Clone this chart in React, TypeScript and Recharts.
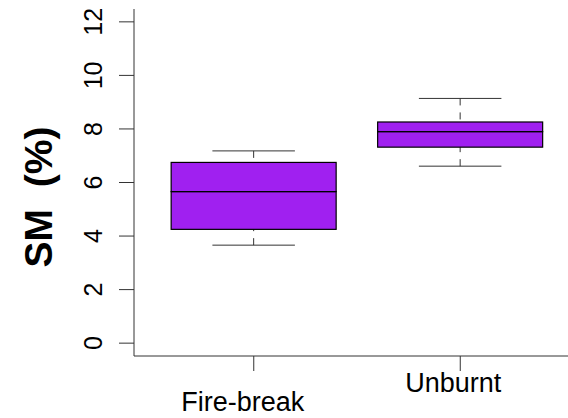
import { ComposedChart, Bar, XAxis, YAxis } from 'recharts'

const groups = ['Fire-break', 'Unburnt']
const whiskerLow = [3.66, 6.61]
const quartile1 = [4.25, 7.32]
const medians = [5.66, 7.9]
const quartile3 = [6.75, 8.26]
const whiskerHigh = [7.18, 9.14]
const yTicks = [0, 2, 4, 6, 8, 10, 12]

const FILL = '#A020F0'
const FONT = '"Liberation Sans", Arial, sans-serif'

// stacked segments: invisible base, lower whisker, two box halves, upper whisker
const data = groups.map((name, i) => ({
  name,
  base: whiskerLow[i],
  lowWhisker: quartile1[i] - whiskerLow[i],
  lowBox: medians[i] - quartile1[i],
  highBox: quartile3[i] - medians[i],
  highWhisker: whiskerHigh[i] - quartile3[i],
}))

function LowWhisker(props: any) {
  const { x, y, width, height } = props
  const cx = x + width / 2
  const end = y + height
  return (
    <g>
      <line x1={cx} y1={end} x2={cx} y2={y} stroke="#333" strokeWidth={1} strokeDasharray="7 7" />
      <line x1={cx - width / 4} y1={end} x2={cx + width / 4} y2={end} stroke="#333" strokeWidth={1} />
    </g>
  )
}

function HighWhisker(props: any) {
  const { x, y, width, height } = props
  const cx = x + width / 2
  return (
    <g>
      <line x1={cx} y1={y} x2={cx} y2={y + height} stroke="#333" strokeWidth={1} strokeDasharray="7 7" />
      <line x1={cx - width / 4} y1={y} x2={cx + width / 4} y2={y} stroke="#333" strokeWidth={1} />
    </g>
  )
}

function BoxHalf(props: any) {
  const { x, y, width, height } = props
  return <rect x={x} y={y} width={width} height={height} fill={FILL} stroke="#000" strokeWidth={1.2} />
}

function YTick(props: any) {
  const { x, y, payload } = props
  const bx = x - 15
  return (
    <text
      x={bx}
      y={y}
      transform={`rotate(-90, ${bx}, ${y})`}
      textAnchor="middle"
      fontSize={25}
      fontFamily={FONT}
      fill="#000"
    >
      {payload.value}
    </text>
  )
}

function XTick(props: any) {
  const { x, y, payload, index } = props
  // R put the two names on different lines, a bit left of the ticks
  const dy = index === 0 ? 38 : 19
  const dx = index === 0 ? -11 : -7
  return (
    <text x={x + dx} y={y + dy} textAnchor="middle" fontSize={27} fontFamily={FONT} fill="#000">
      {payload.value}
    </text>
  )
}

export default function App() {
  return (
    <div
      style={{
        position: 'absolute',
        top: 0,
        left: 0,
        width: 568,
        height: 418,
        overflow: 'hidden',
        background: '#fff',
      }}
    >
      <ComposedChart
        width={590}
        height={418}
        data={data}
        margin={{ top: 9, right: 10, bottom: 0, left: 0 }}
        barCategoryGap="10%"
      >
        <XAxis
          dataKey="name"
          height={62}
          padding={{ left: 16.5, right: 16.5 }}
          tickSize={15}
          tickLine={{ stroke: '#333' }}
          axisLine={{ stroke: '#333' }}
          tick={<XTick />}
          interval={0}
        />
        <XAxis
          xAxisId="top"
          dataKey="name"
          orientation="top"
          height={0}
          tick={false}
          tickLine={false}
          axisLine={{ stroke: '#333' }}
        />
        <YAxis
          width={134}
          domain={[-0.48, 12.48]}
          ticks={yTicks}
          allowDataOverflow
          tickSize={15}
          tickLine={{ stroke: '#333' }}
          axisLine={{ stroke: '#333' }}
          tick={<YTick />}
          label={{
            content: () => (
              <text
                x={52}
                y={197}
                transform="rotate(-90, 52, 197)"
                textAnchor="middle"
                fontSize={39}
                fontWeight="bold"
                fontFamily={FONT}
                fill="#000"
                style={{ whiteSpace: 'pre' }}
              >
                {'SM  (%)'}
              </text>
            ),
          }}
        />
        <Bar dataKey="base" stackId="a" fill="transparent" isAnimationActive={false} />
        <Bar dataKey="lowWhisker" stackId="a" shape={<LowWhisker />} isAnimationActive={false} />
        <Bar dataKey="lowBox" stackId="a" shape={<BoxHalf />} isAnimationActive={false} />
        <Bar dataKey="highBox" stackId="a" shape={<BoxHalf />} isAnimationActive={false} />
        <Bar dataKey="highWhisker" stackId="a" shape={<HighWhisker />} isAnimationActive={false} />
      </ComposedChart>
    </div>
  )
}
